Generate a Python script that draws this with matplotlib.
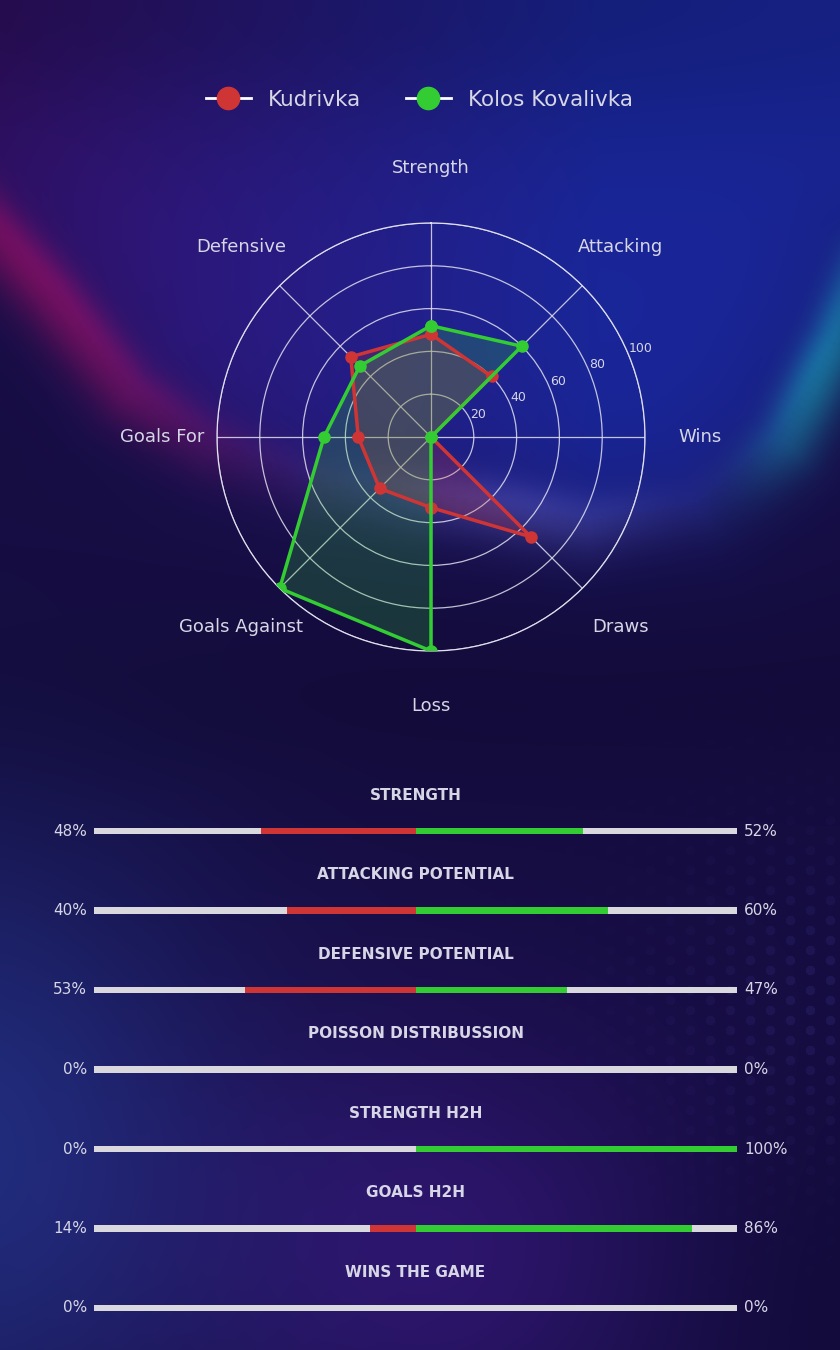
import numpy as np
import matplotlib.pyplot as plt
from matplotlib.lines import Line2D

# radar data
categories = ['Strength', 'Attacking', 'Wins', 'Draws', 'Loss',
              'Goals Against', 'Goals For', 'Defensive']
home_radar = [48, 40, 0, 66, 33, 34, 34, 53]
away_radar = [52, 60, 0, 0, 100, 100, 50, 47]
home_name = 'Kudrivka'
away_name = 'Kolos Kovalivka'

# comparison bars
bar_titles = ['STRENGTH', 'ATTACKING POTENTIAL', 'DEFENSIVE POTENTIAL',
              'POISSON DISTRIBUSSION', 'STRENGTH H2H', 'GOALS H2H', 'WINS THE GAME']
home_pct = [48, 40, 53, 0, 0, 14, 0]
away_pct = [52, 60, 47, 0, 100, 86, 0]

RED = '#d03535'
GREEN = '#33cc33'
TXT = '#d6d6e6'
GRAY = '#d8d8de'

W, H = 840, 1350
fig = plt.figure(figsize=(W / 100, H / 100), dpi=100)

# ---- background ----
yy, xx = np.mgrid[0:H, 0:W].astype(np.float32)
outside_col = np.array([0.085, 0.052, 0.26], dtype=np.float32)
img = np.zeros((H, W, 3), dtype=np.float32) + outside_col


def blob(cx, cy, sx, sy, col):
    g = np.exp(-(((xx - cx) / sx) ** 2 + ((yy - cy) / sy) ** 2))
    return g[..., None] * np.array(col, dtype=np.float32)


# big glow whose lower edge runs through the radar
arc_pts = np.array([(-60, 170), (0, 233), (54, 291), (134, 388), (214, 440), (321, 480),
                    (482, 500), (589, 519), (696, 504), (777, 436), (835, 339),
                    (870, 260)], dtype=np.float32)
dist = np.full((H, W), 1e6, dtype=np.float32)
for (x0, y0), (x1, y1) in zip(arc_pts[:-1], arc_pts[1:]):
    for t in np.linspace(0, 1, 14, endpoint=False):
        d = np.hypot(xx - (x0 + t * (x1 - x0)), yy - (y0 + t * (y1 - y0)))
        dist = np.minimum(dist, d)
arc_y = np.interp(xx[0], arc_pts[:, 0], arc_pts[:, 1])
sign = np.where(yy < arc_y[None, :], 1.0, -1.0)
w_in = 0.5 + 0.5 * sign * (1 - np.exp(-dist / 45.0))

xr = xx / W
inside_col = (np.array([0.21, 0.07, 0.44]) * np.clip(1 - xr * 1.4, 0, 1)[..., None] +
              np.array([0.10, 0.15, 0.60]) * np.clip(xr * 1.4, 0, 1)[..., None])
# darker near the top edge
top_dark = 1 - 0.3 * np.exp(-(yy / 140.0) ** 2) * (1 - 0.5 * xr)
inside_col = inside_col * top_dark[..., None]
img = img * (1 - w_in[..., None]) + inside_col.astype(np.float32) * w_in[..., None]

# coloured rim of the glow: crimson on the left, pale in the middle, green on the right
left_g = np.exp(-((xr - 0.05) / 0.22) ** 2)
mid_g = np.exp(-((xr - 0.6) / 0.2) ** 2)
right_g = np.exp(-((xr - 0.98) / 0.08) ** 2)
rim_col = np.stack([0.30 * left_g + 0.12 * mid_g,
                    0.12 * mid_g + 0.32 * right_g,
                    0.03 * left_g + 0.16 * mid_g + 0.18 * right_g], axis=-1)
rim = np.where(sign > 0, np.exp(-(dist / 26.0) ** 2), np.exp(-(dist / 38.0) ** 2))
img += rim[..., None] * rim_col

# darker band under the radar
img *= (1 - 0.12 * np.exp(-((yy - 700) / 110) ** 2))[..., None]
# bottom colouring
img += blob(-40, 1150, 260, 320, [0.04, 0.12, 0.22])
img += blob(430, 1250, 260, 220, [0.09, 0.03, 0.16])
img += blob(840, 1300, 200, 200, [-0.02, -0.01, -0.04])

# faint dot pattern on the right
gx = ((xx % 20) - 10)
gy = (((yy + 10 * ((xx // 20) % 2)) % 20) - 10)
dots = (np.hypot(gx, gy) < 4.5).astype(np.float32)
dots *= np.exp(-((xx - 840) / 160) ** 2) * np.exp(-((yy - 1000) / 150) ** 2)
img += dots[..., None] * np.array([0.035, 0.035, 0.07])
img = np.clip(img, 0, 1)

bg = fig.add_axes([0, 0, 1, 1])
bg.imshow(img, aspect='auto', extent=[0, 1, 0, 1], zorder=0)
bg.axis('off')

# ---- radar ----
cx, cy, R = 431, 437, 214
ax = fig.add_axes([(cx - R) / W, 1 - (cy + R) / H, 2 * R / W, 2 * R / H], polar=True)
ax.patch.set_alpha(0)
ax.set_theta_offset(np.pi / 2)
ax.set_theta_direction(-1)
angles = np.linspace(0, 2 * np.pi, len(categories), endpoint=False)
ang_c = np.append(angles, angles[0])

for vals, col in [(home_radar, RED), (away_radar, GREEN)]:
    v = np.append(vals, vals[0])
    ax.fill(ang_c, v, color=col, alpha=0.22, zorder=2)
    ax.plot(ang_c, v, color=col, lw=2.5, marker='o', ms=8, zorder=3)

ax.set_ylim(0, 100)
ax.set_yticks([20, 40, 60, 80, 100])
ax.set_yticklabels(['20', '40', '60', '80', '100'], color=TXT, fontsize=9)
ax.set_rlabel_position(67.5)
ax.set_xticks(angles)
ax.set_xticklabels([])
ax.grid(color='#e0e0ee', lw=0.9, alpha=0.85)
ax.spines['polar'].set_color('#e0e0ee')
ax.spines['polar'].set_linewidth(0.9)
for a, lab in zip(angles, categories):
    ax.text(a, 125.5, lab, color=TXT, fontsize=13, ha='center', va='center')

# legend
handles = [Line2D([], [], color='white', lw=2, marker='o', ms=16, mfc=RED, mec=RED),
           Line2D([], [], color='white', lw=2, marker='o', ms=16, mfc=GREEN, mec=GREEN)]
fig.legend(handles, [home_name, away_name], loc='center', bbox_to_anchor=(0.4994, 1 - 100 / H),
           ncol=2, frameon=False, fontsize=15.5, labelcolor=TXT, handlelength=2.1,
           columnspacing=2.05, handletextpad=0.8)

# ---- comparison bars ----
top_px, bot_px = 831 - 0.6 * 79.5, 831 + 6.4 * 79.5
bx = fig.add_axes([94 / W, 1 - bot_px / H, 643 / W, (bot_px - top_px) / H])
bx.patch.set_alpha(0)
bx.set_xlim(-1, 1)
bx.set_ylim(6.4, -0.6)
bx.axis('off')
rows = np.arange(len(bar_titles))
hb = 0.085
bx.barh(rows, 2, left=-1, height=hb, color=GRAY)
bx.barh(rows, np.array(home_pct) / 100, left=-np.array(home_pct) / 100, height=hb, color=RED)
bx.barh(rows, np.array(away_pct) / 100, left=0, height=hb, color=GREEN)
for i, t in enumerate(bar_titles):
    bx.text(0, i - 0.45, t, color=TXT, fontsize=11, fontweight='bold', ha='center', va='center')
    bx.annotate(f'{home_pct[i]}%', (-1, i), xytext=(-5, 0), textcoords='offset points',
                color=TXT, fontsize=11, ha='right', va='center')
    bx.annotate(f'{away_pct[i]}%', (1, i), xytext=(5, 0), textcoords='offset points',
                color=TXT, fontsize=11, ha='left', va='center')

fig.savefig('out.png', dpi=100)
